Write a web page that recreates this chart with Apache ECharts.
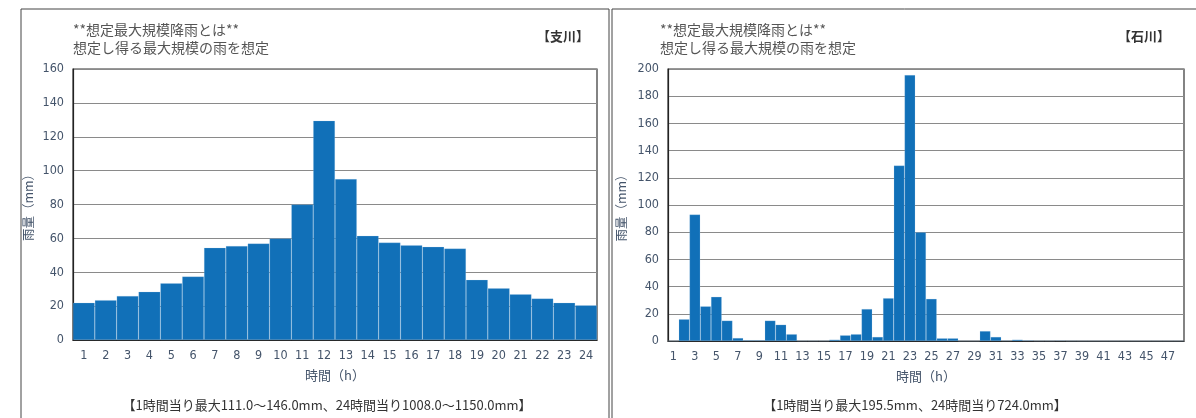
<!DOCTYPE html>
<html>
<head>
<meta charset="utf-8">
<script src="https://cdn.jsdelivr.net/npm/echarts@6/dist/echarts.min.js"></script>
<style>
html,body{margin:0;padding:0;background:#fff;}
#c{width:1196px;height:418px;}
</style>
</head>
<body>
<div id="c"></div>
<script>
// ---- data ----
var leftCategories = ['1','2','3','4','5','6','7','8','9','10','11','12','13','14','15','16','17','18','19','20','21','22','23','24'];
var leftValues = [22,23.5,26,28.5,33.5,37.5,54.5,55.5,57,60,80,129.5,95,61.5,57.5,56,55,54,35.5,30.5,27,24.5,22,20.5];
var rightCategories = [];
for (var i = 1; i <= 48; i++) rightCategories.push(String(i));
var rightValues = [0,16,93,25.5,32.5,15,2.2,0.6,0.6,15,12,5,0.2,0.2,0.2,1,4.2,5,23.5,3,31.5,129,195.5,80,31,2,2,0,0,7.3,3,0.4,1,0.5,0.2,0.2,0.4,0.1,0,0,0,0,0,0,0,0,0,0];
var leftYTicks = {min:0, max:160, interval:20};
var rightYTicks = {min:0, max:200, interval:20};
var titleText = '**想定最大規模降雨とは**\n想定し得る最大規模の雨を想定';
var leftTag = '【支川】';
var rightTag = '【石川】';
var leftNote = '【1時間当り最大111.0～146.0mm、24時間当り1008.0～1150.0mm】';
var rightNote = '【1時間当り最大195.5mm、24時間当り724.0mm】';
var xName = '時間（h）';
var yName = '雨量（mm）';

// ---- styles ----
var FONT = "'DejaVu Sans Condensed','Liberation Sans Narrow','Noto Sans CJK JP',sans-serif";
var JFONT = "'Noto Sans CJK JP',sans-serif";
var TXT = '#44546a';
var BAR = '#1170b8';

function xAxisCfg(idx, cats, interval) {
  return {
    type:'category', gridIndex:idx, data:cats,
    name:xName, nameLocation:'middle', nameGap:29,
    nameTextStyle:{fontFamily:JFONT, fontSize:13, color:TXT},
    axisLine:{lineStyle:{color:'#222', width:1.2}},
    axisTick:{show:false},
    axisLabel:{interval:interval, fontFamily:FONT, fontSize:12.5, color:TXT, margin:9},
    splitLine:{show:false}
  };
}
function yAxisCfg(idx, t, gap) {
  return {
    type:'value', gridIndex:idx, min:t.min, max:t.max, interval:t.interval,
    name:yName, nameLocation:'middle', nameGap:gap,
    nameTextStyle:{fontFamily:JFONT, fontSize:12.5, color:TXT},
    axisLine:{show:true, lineStyle:{color:'#222', width:1.2}},
    axisTick:{show:false},
    axisLabel:{fontFamily:FONT, fontSize:12.5, color:TXT, margin:9},
    splitLine:{lineStyle:{color:'#8a8a8a', width:1.2}}
  };
}
function barSeries(idx, vals) {
  return {
    type:'bar', xAxisIndex:idx, yAxisIndex:idx, data:vals,
    barCategoryGap:'0%', silent:true,
    itemStyle:{color:BAR, borderColor:'rgba(170,205,235,0.4)', borderWidth:0.5}
  };
}

var chart = echarts.init(document.getElementById('c'), null, {renderer:'canvas'});
chart.setOption({
  animation:false,
  backgroundColor:'#fff',
  textStyle:{fontFamily:FONT},
  grid:[
    {left:73, right:599, top:69, bottom:78, show:true, borderColor:'#333', borderWidth:1.2, backgroundColor:'transparent'},
    {left:668, right:12, top:69, bottom:77, show:true, borderColor:'#333', borderWidth:1.2, backgroundColor:'transparent'}
  ],
  xAxis:[xAxisCfg(0, leftCategories, 0), xAxisCfg(1, rightCategories, 1)],
  yAxis:[yAxisCfg(0, leftYTicks, 38), yAxisCfg(1, rightYTicks, 41)],
  series:[barSeries(0, leftValues), barSeries(1, rightValues)],
  graphic:[
    {type:'rect', shape:{x:21, y:9, width:588, height:430}, style:{fill:'none', stroke:'#444', lineWidth:1}, silent:true},
    {type:'rect', shape:{x:612, y:9, width:600, height:430}, style:{fill:'none', stroke:'#444', lineWidth:1}, silent:true},
    {type:'text', left:73, top:21, style:{text:titleText, font:'14px '+JFONT, fill:'#555', lineHeight:18}},
    {type:'text', left:660, top:21, style:{text:titleText, font:'14px '+JFONT, fill:'#555', lineHeight:18}},
    {type:'text', left:537, top:30, style:{text:leftTag, font:'bold 13px '+JFONT, fill:'#333'}},
    {type:'text', left:1118, top:30, style:{text:rightTag, font:'bold 13px '+JFONT, fill:'#333'}},
    {type:'text', x:327, y:405, style:{text:leftNote, font:'13px '+JFONT, fill:'#333', align:'center', verticalAlign:'middle'}},
    {type:'text', x:915, y:405, style:{text:rightNote, font:'13px '+JFONT, fill:'#333', align:'center', verticalAlign:'middle'}}
  ]
});
</script>
</body>
</html>
